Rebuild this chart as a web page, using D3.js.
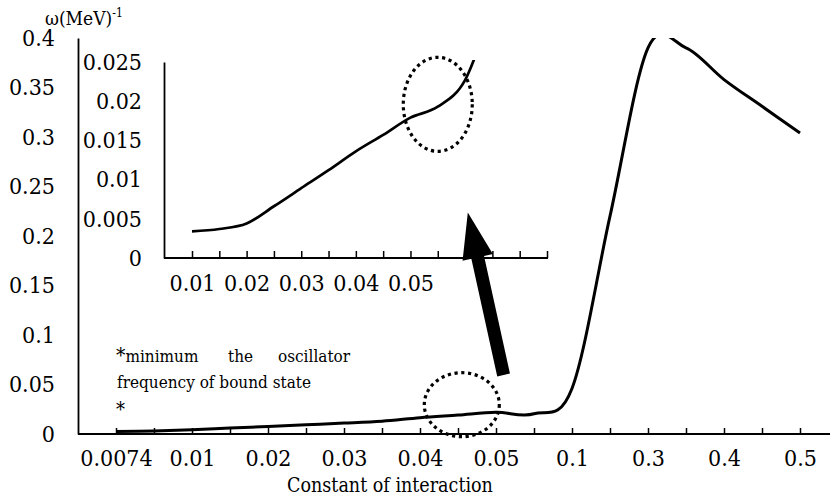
<!DOCTYPE html>
<html>
<head>
<meta charset="utf-8">
<script src="https://cdn.jsdelivr.net/npm/d3@7"></script>
<style>
  body { margin: 0; background: #fff; }
  svg { display: block; }
  text { font-family: "DejaVu Serif Condensed", "DejaVu Serif", "Liberation Serif", serif; fill: #000; }
</style>
</head>
<body>
<div id="viz"></div>
<script>
// Main chart: omega vs constant of interaction (every other category is labelled)
const xLabels = ["0.0074", "", "0.01", "", "0.02", "", "0.03", "", "0.04", "", "0.05", "", "0.1", "", "0.3", "", "0.4", "", "0.5"];
const omega = [0.0025, 0.003, 0.0042, 0.006, 0.0076, 0.0093, 0.011, 0.013, 0.0165, 0.0192, 0.022, 0.0204, 0.046, 0.22, 0.39, 0.39, 0.358, 0.331, 0.304];
const yTicks = [0, 0.05, 0.1, 0.15, 0.2, 0.25, 0.3, 0.35, 0.4];

// Inset: zoom on the small-coupling part
const insetLabels = ["0.01", "", "0.02", "", "0.03", "", "0.04", "", "0.05", "", "", "", "", ""];
const insetOmega = [0.0034, 0.0037, 0.0044, 0.0066, 0.0089, 0.0112, 0.0136, 0.0157, 0.0179, 0.0193, 0.0227, 0.032];
const insetYTicks = [0, 0.005, 0.01, 0.015, 0.02, 0.025];

const width = 830, height = 497;
const tickFont = 23;

const svg = d3.select("#viz")
    .append("svg")
    .attr("width", width)
    .attr("height", height);

// ---------- main chart ----------
const x = d3.scalePoint()
    .domain(d3.range(xLabels.length))
    .range([116, 800]);
const xAt = i => x(0) + i * x.step(); // fractional category position

const y = d3.scaleLinear()
    .domain([0, 0.4])
    .range([434, 38]);

svg.append("defs").append("clipPath")
    .attr("id", "mainClip")
    .append("rect")
    .attr("x", 78).attr("y", y(0.4))
    .attr("width", width - 78).attr("height", y(0) - y(0.4));

// y axis
const yAxis = svg.append("g")
    .attr("transform", "translate(78,0)")
    .call(d3.axisLeft(y).tickValues(yTicks).tickSize(0).tickSizeOuter(0).tickPadding(23).tickFormat(d => String(d)));
yAxis.select(".domain").attr("stroke-width", 1.8);
yAxis.selectAll("text").attr("font-size", tickFont);

// x axis (ticks point up into the plot)
const xAxis = svg.append("g")
    .attr("transform", `translate(0,${y(0)})`)
    .call(d3.axisBottom(x).tickSizeInner(-6).tickSizeOuter(0).tickFormat(i => xLabels[i]));
xAxis.select(".domain").remove();
xAxis.append("line")
    .attr("x1", 78).attr("x2", width)
    .attr("stroke", "#000").attr("stroke-width", 1.8);
xAxis.selectAll(".tick line").attr("stroke-width", 1.5);
xAxis.selectAll("text")
    .attr("font-size", tickFont)
    .attr("y", 32).attr("dy", null);

svg.append("text")
    .attr("x", 390).attr("y", 492)
    .attr("text-anchor", "middle")
    .attr("font-size", 19.5)
    .text("Constant of interaction");

const yTitle = svg.append("text")
    .attr("x", 45).attr("y", 25)
    .attr("font-size", 19)
    .text("ω(MeV)");
yTitle.append("tspan")
    .attr("font-size", 12)
    .attr("dy", -8)
    .text("-1");

const line = d3.line()
    .x((d, i) => x(i))
    .y(d => y(d))
    .curve(d3.curveCardinal.tension(0));

svg.append("path")
    .datum(omega)
    .attr("clip-path", "url(#mainClip)")
    .attr("fill", "none")
    .attr("stroke", "#000")
    .attr("stroke-width", 3)
    .attr("d", line);

// ---------- inset ----------
const xi = d3.scalePoint()
    .domain(d3.range(insetLabels.length))
    .range([192, 547]);
const xiAt = i => xi(0) + i * xi.step();

const yi = d3.scaleLinear()
    .domain([0, 0.025])
    .range([258, 62]);

svg.select("defs").append("clipPath")
    .attr("id", "insetClip")
    .append("rect")
    .attr("x", 164).attr("y", 60)
    .attr("width", 384).attr("height", 198);

const yiAxis = svg.append("g")
    .attr("transform", "translate(164,0)")
    .call(d3.axisLeft(yi).tickValues(insetYTicks).tickSize(0).tickSizeOuter(0).tickPadding(22).tickFormat(d => String(d)));
yiAxis.select(".domain").attr("stroke-width", 1.8);
yiAxis.selectAll("text").attr("font-size", tickFont);

const xiAxis = svg.append("g")
    .attr("transform", `translate(0,${yi(0)})`)
    .call(d3.axisBottom(xi).tickSizeInner(-7).tickSizeOuter(0).tickFormat(i => insetLabels[i]));
xiAxis.select(".domain").remove();
xiAxis.append("line")
    .attr("x1", 164).attr("x2", 548)
    .attr("stroke", "#000").attr("stroke-width", 1.8);
xiAxis.selectAll(".tick line").attr("stroke-width", 1.5);
xiAxis.selectAll("text")
    .attr("font-size", tickFont)
    .attr("y", 33).attr("dy", null);

const insetLine = d3.line()
    .x((d, i) => xi(i))
    .y(d => yi(d))
    .curve(d3.curveCardinal.tension(0));

svg.append("path")
    .datum(insetOmega)
    .attr("clip-path", "url(#insetClip)")
    .attr("fill", "none")
    .attr("stroke", "#000")
    .attr("stroke-width", 2.7)
    .attr("d", insetLine);

// ---------- annotations ----------
// dotted ellipses marking the kink
svg.append("ellipse")
    .attr("cx", xiAt(9)).attr("cy", yi(0.0196))
    .attr("rx", 34.5).attr("ry", 47)
    .attr("fill", "none").attr("stroke", "#000")
    .attr("stroke-width", 3.2).attr("stroke-dasharray", "3.2 3.6");

svg.append("ellipse")
    .attr("cx", xAt(9.1)).attr("cy", y(0.0296))
    .attr("rx", 37.5).attr("ry", 32)
    .attr("fill", "none").attr("stroke", "#000")
    .attr("stroke-width", 3.2).attr("stroke-dasharray", "3.2 3.6");

// big arrow from main chart up to the inset
const start = [xAt(10.2), y(0.0596)];
const tip = [xiAt(10.1), yi(0.0058)];
const dx = tip[0] - start[0], dy = tip[1] - start[1];
const len = Math.hypot(dx, dy);
const ux = dx / len, uy = dy / len;   // along arrow
const px = -uy, py = ux;              // perpendicular
const shaftW = 13, headL = 46, headW = 31;
const base = [tip[0] - ux * headL, tip[1] - uy * headL];
const arrowPts = [
    [start[0] + px * shaftW / 2, start[1] + py * shaftW / 2],
    [base[0] + px * shaftW / 2, base[1] + py * shaftW / 2],
    [base[0] + px * headW / 2, base[1] + py * headW / 2],
    tip,
    [base[0] - px * headW / 2, base[1] - py * headW / 2],
    [base[0] - px * shaftW / 2, base[1] - py * shaftW / 2],
    [start[0] - px * shaftW / 2, start[1] - py * shaftW / 2]
];
svg.append("path")
    .attr("d", "M" + arrowPts.map(p => p.join(",")).join("L") + "Z")
    .attr("fill", "#000");

// note text
const note = svg.append("g").attr("font-size", 17);
const first = note.append("text").attr("x", 116).attr("y", 362);
first.append("tspan").attr("font-size", 21).text("*");
first.append("tspan").text("minimum");
note.append("text").attr("x", 228).attr("y", 362).text("the");
note.append("text").attr("x", 278).attr("y", 362).text("oscillator");
note.append("text").attr("x", 117).attr("y", 388).text("frequency of bound state");
note.append("text").attr("x", 116).attr("y", 416).attr("font-size", 20).text("*");
</script>
</body>
</html>
